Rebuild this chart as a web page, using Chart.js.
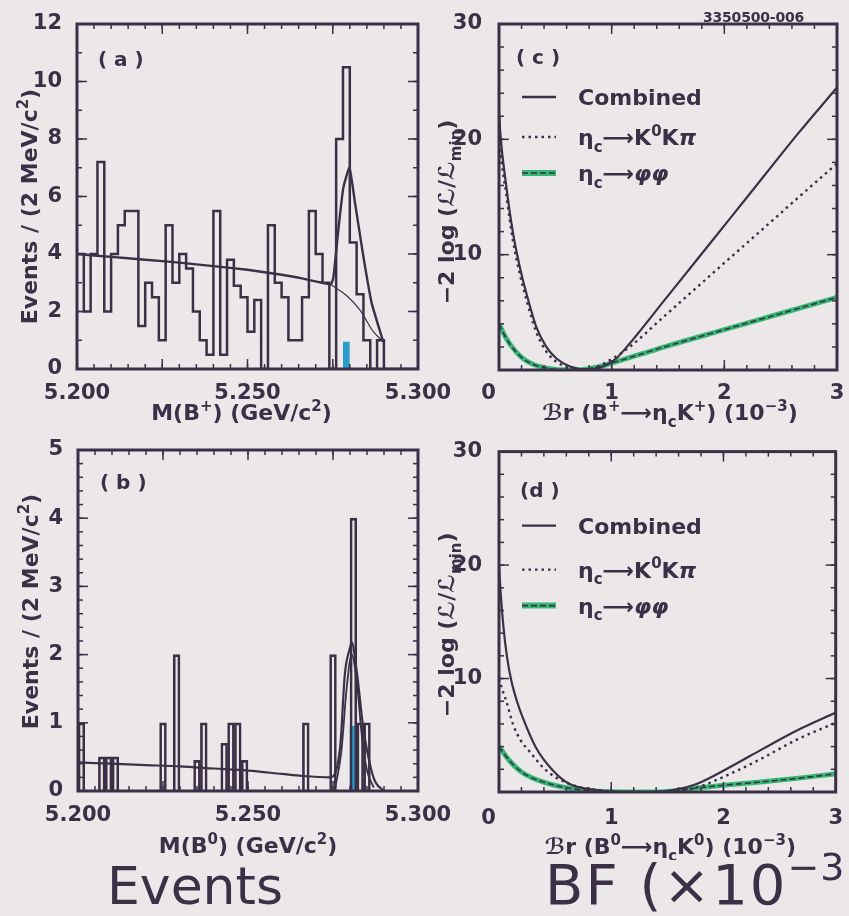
<!DOCTYPE html>
<html>
<head>
<meta charset="utf-8">
<title>B → ηc K mass fits and likelihood scans</title>
<script src="https://cdn.jsdelivr.net/npm/chart.js@4.4.1/dist/chart.umd.min.js"></script>
<style>
  html, body { margin: 0; padding: 0; background: #ece8ea; }
  #page { position: relative; width: 849px; height: 916px; overflow: hidden; background: #ece8ea;
          color: #3b3046; font-family: "DejaVu Sans", sans-serif; }
  canvas { position: absolute; }
  #cA { left: 0; top: 0; }
  #cB { left: 0; top: 430px; }
  #cC { left: 430px; top: 0; }
  #cD { left: 430px; top: 430px; }
  .tag { position: absolute; left: 703px; top: 9px; font: bold 14px "DejaVu Sans", sans-serif; letter-spacing: -0.2px; }
  .big { position: absolute; white-space: nowrap; }
  .big sup { vertical-align: 0; position: relative; }
  #bigL { left: 107px; top: 860px; font-size: 52px; line-height: 52px; }
  #bigR { left: 545px; top: 857px; font-size: 56px; line-height: 56px; letter-spacing: 2px; }
  #bigR sup { font-size: 38px; top: -24px; letter-spacing: 1px; }
</style>
</head>
<body>
<div id="page">
  <canvas id="cA" width="460" height="440"></canvas>
  <canvas id="cB" width="460" height="430"></canvas>
  <canvas id="cC" width="419" height="440"></canvas>
  <canvas id="cD" width="419" height="430"></canvas>
  <div class="tag">3350500-006</div>
  <div class="big" id="bigL">Events</div>
  <div class="big" id="bigR">BF (×10<sup>−3</sup></div>
</div>
<script>
// ---------- binning of the mass histograms (GeV/c^2) ----------
const MASS_MIN = 5.200;
const MASS_MAX = 5.300;
const BIN_WIDTH = 0.002;

// (a) B+ candidates per 2 MeV bin
const countsBplus = [
  4, 2, 4, 7.2, 2, 4, 5, 5.5, 5.5, 1.5,
  3, 2.5, 1, 5, 3, 4, 3.5, 2, 1, 0.5,
  5.5, 0.5, 3.8, 2.9, 2.5, 1.3, 2.4, 0, 5, 3,
  2.5, 1, 1, 2.5, 5.5, 4, 3, 0, 8, 10.5,
  4.4, 2.6, 1, 0, 1, 0, 0, 0, 0, 0
];
const signalBinBplus = 39;
const signalCountBplus = 0.95;

// (a) fit: total and background-only
const fitMassBplus  = [5.200, 5.210, 5.220, 5.230, 5.240, 5.250, 5.260, 5.266, 5.271, 5.2745, 5.2752, 5.2766, 5.2781, 5.2799, 5.2815, 5.2840, 5.2864, 5.2898];
const fitTotalBplus = [4.00, 3.90, 3.80, 3.70, 3.58, 3.45, 3.28, 3.15, 3.02, 2.95, 3.20, 4.80, 6.30, 7.00, 5.80, 3.90, 2.30, 0.95];
const bkgMassBplus  = [5.2740, 5.2791, 5.2830, 5.2869, 5.2898];
const fitBkgBplus   = [2.97, 2.55, 2.05, 1.30, 0.95];

// (b) B0 candidates per 2 MeV bin
const countsB0 = [
  1, 0, 0, 0.5, 0.5, 0.5, 0, 0, 0, 0,
  0, 0, 1, 0, 2, 0, 0, 0.45, 1, 0,
  0, 0.7, 1, 1, 0.45, 0, 0, 0, 0, 0,
  0, 0, 0, 1, 0, 0, 0, 2, 0, 0,
  4, 1, 1, 0, 0, 0, 0, 0, 0, 0
];
const signalBinB0 = 40;
const signalCountB0 = 0.95;

// (b) fit: total and signal-only
const fitMassB0  = [5.200, 5.210, 5.220, 5.230, 5.240, 5.250, 5.260, 5.266, 5.2741, 5.2771, 5.2785, 5.2800, 5.2805, 5.2820, 5.2839, 5.2869, 5.2898];
const fitTotalB0 = [0.42, 0.40, 0.38, 0.36, 0.33, 0.30, 0.25, 0.22, 0.20, 0.64, 1.72, 2.10, 2.18, 1.75, 0.93, 0.20, 0.00];
const sigMassB0  = [5.2755, 5.2775, 5.2790, 5.2805, 5.2820, 5.2835, 5.2850, 5.2870];
const fitSigB0   = [0.00, 0.60, 1.50, 2.00, 1.60, 0.80, 0.30, 0.05];

// (c) -2 log(L/Lmin) versus Br(B+ -> eta_c K+) in units of 1e-3
const bfCombC  = [0, 0.012, 0.065, 0.124, 0.183, 0.243, 0.33, 0.42, 0.51, 0.63, 0.78, 0.92, 1.04, 1.16, 1.46, 1.76, 2.06, 2.35, 2.65, 3.0];
const nllCombC = [22.5, 20.5, 15.9, 11.9, 9.0, 6.65, 3.76, 2.0, 1.0, 0.3, 0.05, 0.3, 1.0, 2.3, 5.95, 9.6, 13.25, 16.8, 20.45, 24.5];
const bfKKpiC  = [0, 0.012, 0.065, 0.124, 0.183, 0.243, 0.33, 0.42, 0.51, 0.63, 0.72, 0.85, 1.01, 1.16, 1.46, 1.76, 2.06, 2.35, 2.65, 3.0];
const nllKKpiC = [22.0, 19.5, 15.2, 11.2, 8.4, 6.1, 3.3, 1.6, 0.7, 0.15, 0.0, 0.2, 1.0, 2.0, 4.6, 7.2, 9.8, 12.3, 14.9, 17.9];
const bfPhiC   = [0, 0.05, 0.1, 0.2, 0.3, 0.45, 0.6, 0.75, 0.9, 1.0, 1.25, 1.5, 2.0, 2.5, 3.0];
const nllPhiC  = [4.0, 3.0, 2.2, 1.1, 0.5, 0.12, 0.0, 0.05, 0.3, 0.6, 1.35, 2.1, 3.5, 4.9, 6.3];

// (d) -2 log(L/Lmin) versus Br(B0 -> eta_c K0) in units of 1e-3
const bfCombD  = [0, 0.015, 0.04, 0.07, 0.11, 0.16, 0.21, 0.33, 0.48, 0.63, 0.86, 1.16, 1.4, 1.6, 1.76, 2.06, 2.35, 2.65, 3.0];
const nllCombD = [20.0, 17.5, 14.5, 12.0, 9.8, 8.0, 6.6, 3.9, 1.9, 0.7, 0.17, 0.0, 0.0, 0.25, 0.7, 2.2, 3.8, 5.4, 7.0];
const bfKKpiD  = [0, 0.03, 0.065, 0.124, 0.19, 0.27, 0.42, 0.63, 0.86, 1.16, 1.46, 1.76, 2.06, 2.35, 2.65, 3.0];
const nllKKpiD = [10.0, 9.0, 8.0, 6.0, 4.6, 3.6, 1.9, 0.7, 0.2, 0.0, 0.0, 0.4, 1.6, 3.0, 4.6, 6.1];
const bfPhiD   = [0, 0.09, 0.21, 0.42, 0.72, 1.0, 1.3, 1.5, 1.76, 2.06, 2.35, 2.65, 3.0];
const nllPhiD  = [4.0, 2.8, 1.7, 0.8, 0.2, 0.02, 0.0, 0.05, 0.35, 0.65, 0.9, 1.2, 1.6];

// ---------- styling ----------
const INK = '#3b3046';
const GREEN = '#35b874';
const BLUE = '#2b9dcc';
const FAMILY = '"DejaVu Sans", sans-serif';
const tickFont = { family: FAMILY, size: 21, weight: 'bold' };
const TITLE_SIZE = 22;
Chart.defaults.font.family = FAMILY;
Chart.defaults.color = INK;

// ---------- helpers turning the arrays into chart points ----------
const binEdge = i => MASS_MIN + i * BIN_WIDTH;
function stepPoints(counts) {
  const pts = counts.map((c, i) => ({ x: binEdge(i), y: c }));
  pts.push({ x: binEdge(counts.length), y: counts[counts.length - 1] });
  return pts;
}
function barPoints(counts) {
  return counts.map((c, i) => ({ x: binEdge(i) + BIN_WIDTH / 2, y: c })).filter(p => p.y > 0);
}
function blockPoints(bin, h) {
  return [{ x: binEdge(bin), y: h }, { x: binEdge(bin + 1), y: h }];
}
const pairs = (xs, ys) => xs.map((x, i) => ({ x, y: ys[i] }));

// ---------- rich text (sub/superscripts) on canvas ----------
function drawRich(ctx, parts, x, yMid, size, align) {
  const fontOf = p => `${p.i ? 'italic ' : ''}bold ${p.s ? Math.round(size * 0.68) : size}px ${FAMILY}`;
  let w = 0;
  for (const p of parts) { ctx.font = fontOf(p); w += ctx.measureText(p.t).width; }
  let cx = align === 'center' ? x - w / 2 : x;
  const base = yMid + size * 0.36;
  ctx.textAlign = 'left';
  ctx.textBaseline = 'alphabetic';
  for (const p of parts) {
    ctx.font = fontOf(p);
    const dy = p.s === 'sub' ? size * 0.3 : p.s === 'sup' ? -size * 0.42 : 0;
    ctx.fillText(p.t, cx, base + dy);
    cx += ctx.measureText(p.t).width;
  }
}

function sampleLine(ctx, kind, x0, x1, y) {
  ctx.save();
  ctx.strokeStyle = INK;
  ctx.lineCap = 'butt';
  if (kind === 'green') {
    ctx.strokeStyle = GREEN; ctx.lineWidth = 6;
    ctx.beginPath(); ctx.moveTo(x0, y); ctx.lineTo(x1, y); ctx.stroke();
    ctx.strokeStyle = INK; ctx.lineWidth = 1.6; ctx.setLineDash([6, 3]);
  } else if (kind === 'dot') {
    ctx.lineWidth = 2.4; ctx.setLineDash([2.5, 4]);
  } else {
    ctx.lineWidth = 2.4;
  }
  ctx.beginPath(); ctx.moveTo(x0, y); ctx.lineTo(x1, y); ctx.stroke();
  ctx.restore();
}

// ---------- per-panel frame ticks and annotations ----------
const FRAME = {
  cA: { xMajor: 0.025, xMinor: 0.005, yMajor: 2, yMinor: 1 },
  cB: { xMajor: 0.025, xMinor: 0.005, yMajor: 1, yMinor: 0.2 },
  cC: { xMajor: 1, xMinor: 0.2, yMajor: 10, yMinor: 2 },
  cD: { xMajor: 1, xMinor: 0.2, yMajor: 10, yMinor: 2 }
};

const legendRows = (dy0, gap1, gap2) => [
  { dy: dy0, kind: 'solid', parts: [{ t: 'Combined' }] },
  { dy: dy0 + gap1, kind: 'dot', parts: [{ t: 'η' }, { t: 'c', s: 'sub' }, { t: '⟶' }, { t: 'K' }, { t: '0', s: 'sup' }, { t: 'K' }, { t: 'π', i: true }] },
  { dy: dy0 + gap1 + gap2, kind: 'green', parts: [{ t: 'η' }, { t: 'c', s: 'sub' }, { t: '⟶' }, { t: 'φφ', i: true }] }
];
const nllTitle = [{ t: '−2 log (ℒ/ℒ' }, { t: 'min', s: 'sub' }, { t: ')' }];

const NOTES = {
  cA: {
    panel: '( a )', panelDx: 21, panelDy: 35,
    xTitle: [{ t: 'M(B' }, { t: '+', s: 'sup' }, { t: ') (GeV/c' }, { t: '2', s: 'sup' }, { t: ')' }], xDx: -6, xDy: 43,
    yTitle: [{ t: 'Events / (2 MeV/c' }, { t: '2', s: 'sup' }, { t: ')' }], yDx: 48, yDy: 10
  },
  cB: {
    panel: '( b )', panelDx: 22, panelDy: 32,
    xTitle: [{ t: 'M(B' }, { t: '0', s: 'sup' }, { t: ') (GeV/c' }, { t: '2', s: 'sup' }, { t: ')' }], xDx: 0, xDy: 54,
    yTitle: [{ t: 'Events / (2 MeV/c' }, { t: '2', s: 'sup' }, { t: ')' }], yDx: 48, yDy: -9
  },
  cC: {
    panel: '( c )', panelDx: 17, panelDy: 33,
    legend: legendRows(73, 40, 36),
    xTitle: [{ t: 'ℬr (B' }, { t: '+', s: 'sup' }, { t: '⟶η' }, { t: 'c', s: 'sub' }, { t: 'K' }, { t: '+', s: 'sup' }, { t: ') (10' }, { t: '−3', s: 'sup' }, { t: ')' }], xDx: 2, xDy: 42,
    yTitle: nllTitle, yDx: 53, yDy: 15
  },
  cD: {
    panel: '(d )', panelDx: 21, panelDy: 38,
    legend: legendRows(74, 44, 36),
    xTitle: [{ t: 'ℬr (B' }, { t: '0', s: 'sup' }, { t: '⟶η' }, { t: 'c', s: 'sub' }, { t: 'K' }, { t: '0', s: 'sup' }, { t: ') (10' }, { t: '−3', s: 'sup' }, { t: ')' }], xDx: 3, xDy: 54,
    yTitle: nllTitle, yDx: 53, yDy: 3
  }
};

const framePlugin = {
  id: 'panelFrame',
  afterDraw(chart) {
    const f = FRAME[chart.canvas.id];
    const { ctx, chartArea: a } = chart;
    const xs = chart.scales.x, ys = chart.scales.y;
    ctx.save();
    ctx.strokeStyle = INK;
    const seg = (x1, y1, x2, y2) => { ctx.beginPath(); ctx.moveTo(x1, y1); ctx.lineTo(x2, y2); ctx.stroke(); };
    const marks = (sc, step, len, horiz) => {
      const n = Math.round((sc.max - sc.min) / step);
      for (let i = 1; i < n; i++) {
        const p = sc.getPixelForValue(sc.min + i * step);
        if (horiz) { seg(p, a.bottom, p, a.bottom - len); seg(p, a.top, p, a.top + len); }
        else { seg(a.left, p, a.left + len, p); seg(a.right, p, a.right - len, p); }
      }
    };
    ctx.lineWidth = 1.5;
    marks(xs, f.xMinor, 5, true);
    marks(xs, f.xMajor, 10, true);
    marks(ys, f.yMinor, 5, false);
    marks(ys, f.yMajor, 10, false);
    ctx.lineWidth = 3;
    ctx.strokeRect(a.left, a.top, a.right - a.left, a.bottom - a.top);
    ctx.restore();
  }
};

const notesPlugin = {
  id: 'panelNotes',
  afterDraw(chart) {
    const n = NOTES[chart.canvas.id];
    const { ctx, chartArea: a } = chart;
    ctx.save();
    ctx.fillStyle = INK;
    drawRich(ctx, [{ t: n.panel }], a.left + n.panelDx, a.top + n.panelDy, 20, 'left');
    (n.legend || []).forEach(row => {
      const y = a.top + row.dy;
      sampleLine(ctx, row.kind, a.left + 23, a.left + 57, y);
      drawRich(ctx, row.parts, a.left + 79, y, 22, 'left');
    });
    drawRich(ctx, n.xTitle, (a.left + a.right) / 2 + n.xDx, a.bottom + n.xDy, TITLE_SIZE, 'center');
    ctx.save();
    ctx.translate(a.left - n.yDx, (a.top + a.bottom) / 2 + n.yDy);
    ctx.rotate(-Math.PI / 2);
    drawRich(ctx, n.yTitle, 0, 0, TITLE_SIZE, 'center');
    ctx.restore();
    ctx.restore();
  }
};

function options(o) {
  return {
    responsive: false,
    animation: false,
    events: [],
    layout: { padding: { top: o.padTop, right: o.padRight, left: 0, bottom: 0 } },
    plugins: { legend: { display: false }, tooltip: { enabled: false } },
    elements: { point: { radius: 0 } },
    scales: {
      x: {
        type: 'linear', min: o.xMin, max: o.xMax, offset: false,
        grid: { display: false }, border: { display: false },
        ticks: { stepSize: o.xStep, color: INK, font: tickFont, padding: o.xPad,
                 maxRotation: 0, autoSkip: false, callback: o.xLabel },
        afterFit: s => { s.height = o.xHeight; }
      },
      y: {
        type: 'linear', min: o.yMin, max: o.yMax,
        grid: { display: false }, border: { display: false },
        ticks: { stepSize: o.yStep, color: INK, font: tickFont, padding: o.yPad, callback: o.yLabel },
        afterFit: s => { s.width = o.yWidth; }
      }
    }
  };
}

const massLabel = v => v.toFixed(3);
const plainLabel = v => String(v);
const bfLabel = v => (v === 0 ? '0\u2003' : String(v));
const nllLabel = v => (v === 0 ? '' : String(v));

const curve = (data, extra) => Object.assign({
  type: 'line', data, borderColor: INK, borderWidth: 2.2, pointRadius: 0,
  cubicInterpolationMode: 'monotone', fill: false
}, extra || {});

// (a) B+ mass distribution
new Chart(document.getElementById('cA'), {
  type: 'line',
  data: {
    datasets: [
      { type: 'line', data: blockPoints(signalBinBplus, signalCountBplus), borderWidth: 0,
        backgroundColor: BLUE, fill: 'origin', pointRadius: 0, order: 10 },
      { type: 'line', data: stepPoints(countsBplus), stepped: true, borderColor: INK,
        borderWidth: 2.5, pointRadius: 0, fill: false, order: 2 },
      curve(pairs(bkgMassBplus, fitBkgBplus), { borderWidth: 1.2, order: 1 }),
      curve(pairs(fitMassBplus, fitTotalBplus), { borderWidth: 2.4, cubicInterpolationMode: 'default', tension: 0.15, order: 0 })
    ]
  },
  options: options({ padTop: 24, padRight: 42, xHeight: 71, yWidth: 77,
    xMin: MASS_MIN, xMax: MASS_MAX, xStep: 0.05, xPad: 4, xLabel: massLabel,
    yMin: 0, yMax: 12, yStep: 2, yPad: 7, yLabel: plainLabel }),
  plugins: [framePlugin, notesPlugin]
});

// (b) B0 mass distribution
new Chart(document.getElementById('cB'), {
  type: 'bar',
  data: {
    datasets: [
      { type: 'bar', data: [{ x: binEdge(signalBinB0) + BIN_WIDTH / 2, y: signalCountB0 }],
        backgroundColor: BLUE, borderWidth: 0, grouped: false, barPercentage: 1, categoryPercentage: 1, order: 10 },
      { type: 'bar', data: barPoints(countsB0), backgroundColor: 'rgba(0,0,0,0)', borderColor: INK,
        borderWidth: 2, grouped: false, barPercentage: 1, categoryPercentage: 1, order: 2 },
      curve(pairs(sigMassB0, fitSigB0), { borderWidth: 1.8, order: 1 }),
      curve(pairs(fitMassB0, fitTotalB0), { borderWidth: 2.2, order: 0 })
    ]
  },
  options: options({ padTop: 20, padRight: 42, xHeight: 69, yWidth: 78,
    xMin: MASS_MIN, xMax: MASS_MAX, xStep: 0.05, xPad: 4, xLabel: massLabel,
    yMin: 0, yMax: 5, yStep: 1, yPad: 7, yLabel: plainLabel }),
  plugins: [framePlugin, notesPlugin]
});

// likelihood scan panels
function scanChart(id, comb, kkpi, phi, lay) {
  new Chart(document.getElementById(id), {
    type: 'line',
    data: {
      datasets: [
        curve(phi, { borderColor: GREEN, borderWidth: 5, order: 4 }),
        curve(phi, { borderWidth: 1.6, borderDash: [6, 3], order: 3 }),
        curve(kkpi, { borderWidth: 2.4, borderDash: [2.5, 4], order: 2 }),
        curve(comb, { borderWidth: 2.2, order: 1 })
      ]
    },
    options: options(Object.assign({ padRight: 12, yWidth: 69,
      xMin: 0, xMax: 3, xStep: 1, xLabel: bfLabel,
      yMin: 0, yMax: 30, yStep: 10, yPad: 9, yLabel: nllLabel }, lay)),
    plugins: [framePlugin, notesPlugin]
  });
}
scanChart('cC', pairs(bfCombC, nllCombC), pairs(bfKKpiC, nllKKpiC), pairs(bfPhiC, nllPhiC),
  { padTop: 24, xHeight: 70, xPad: 3 });
scanChart('cD', pairs(bfCombD, nllCombD), pairs(bfKKpiD, nllKKpiD), pairs(bfPhiD, nllPhiD),
  { padTop: 19, xHeight: 68, xPad: 6 });
</script>
</body>
</html>
